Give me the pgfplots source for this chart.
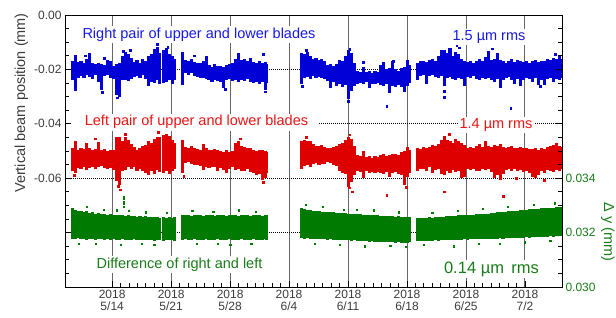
\documentclass[border=0pt]{standalone}
\usepackage{fontspec}
\setmainfont{Liberation Sans}
\usepackage{pgfplots}
\usepackage{pgfplotstable}
\pgfplotsset{compat=1.18}
\definecolor{cblue}{RGB}{0,0,215}
\definecolor{cred}{RGB}{222,0,0}
\definecolor{cgreen}{RGB}{0,122,0}
\definecolor{tblue}{RGB}{25,25,230}
\definecolor{tred}{RGB}{235,20,20}
\definecolor{tgreen}{RGB}{25,125,25}
\definecolor{tgray}{RGB}{60,60,60}

% x = days since 2018-05-14; b = right pair (mm), r = left pair (mm), g = difference (mm, right axis)
\pgfplotstableread{
x blo bhi rlo rhi glo ghi
-4.75 -0.0240 -0.0170 -0.0575 -0.0490 0.03178 0.03290
-4.40 -0.0268 -0.0148 -0.0580 -0.0462 0.03175 0.03282
-4.05 -0.0230 -0.0172 -0.0562 -0.0495 0.03180 0.03280
-3.70 -0.0226 -0.0168 -0.0565 -0.0488 0.03176 0.03278
-3.35 -0.0233 -0.0178 -0.0558 -0.0493 0.03178 0.03276
-3.00 -0.0222 -0.0160 -0.0570 -0.0470 0.03174 0.03279
-2.65 -0.0228 -0.0141 -0.0562 -0.0490 0.03177 0.03272
-2.30 -0.0235 -0.0175 -0.0558 -0.0497 0.03176 0.03274
-1.95 -0.0221 -0.0182 -0.0566 -0.0494 0.03173 0.03270
-1.60 -0.0245 -0.0176 -0.0560 -0.0466 0.03178 0.03272
-1.25 -0.0276 -0.0180 -0.0555 -0.0498 0.03175 0.03268
-0.90 -0.0226 -0.0184 -0.0562 -0.0492 0.03174 0.03270
-0.55 -0.0220 -0.0165 -0.0568 -0.0500 0.03177 0.03266
-0.20 -0.0232 -0.0168 -0.0563 -0.0495 0.03172 0.03268
0.15 -0.0235 -0.0186 -0.0570 -0.0498 0.03175 0.03264
0.50 -0.0295 -0.0180 -0.0610 -0.0450 0.03174 0.03266
0.85 -0.0300 -0.0175 -0.0625 -0.0448 0.03171 0.03263
1.20 -0.0240 -0.0150 -0.0575 -0.0465 0.03175 0.03265
1.55 -0.0238 -0.0136 -0.0570 -0.0448 0.03173 0.03262
1.90 -0.0244 -0.0145 -0.0560 -0.0460 0.03174 0.03264
2.25 -0.0235 -0.0158 -0.0565 -0.0475 0.03172 0.03260
2.60 -0.0228 -0.0172 -0.0558 -0.0485 0.03175 0.03262
2.95 -0.0225 -0.0165 -0.0572 -0.0495 0.03173 0.03259
3.30 -0.0230 -0.0176 -0.0568 -0.0490 0.03172 0.03261
3.65 -0.0222 -0.0160 -0.0575 -0.0480 0.03174 0.03258
4.00 -0.0234 -0.0170 -0.0580 -0.0478 0.03171 0.03260
4.35 -0.0262 -0.0150 -0.0590 -0.0465 0.03173 0.03257
4.70 -0.0245 -0.0145 -0.0575 -0.0470 0.03172 0.03259
5.05 -0.0250 -0.0125 -0.0585 -0.0455 0.03170 0.03256
5.40 -0.0240 -0.0117 -0.0570 -0.0448 0.03173 0.03258
5.60 -0.0255 -0.0140 -0.0578 -0.0450 0.03171 0.03255
6.10 -0.0250 -0.0130 -0.0580 -0.0440 0.03170 0.03257
6.45 -0.0245 -0.0122 -0.0572 -0.0436 0.03172 0.03255
6.80 -0.0238 -0.0145 -0.0585 -0.0445 0.03171 0.03256
7.15 -0.0252 -0.0150 -0.0575 -0.0460 0.03173 0.03254
7.35 -0.0240 -0.0160 -0.0565 -0.0470 0.03170 0.03256
8.35 -0.0258 -0.0135 -0.0580 -0.0460 0.03173 0.03265
8.70 -0.0215 -0.0166 -0.0545 -0.0485 0.03175 0.03263
9.05 -0.0220 -0.0170 -0.0542 -0.0488 0.03174 0.03266
9.40 -0.0212 -0.0162 -0.0548 -0.0482 0.03172 0.03262
9.75 -0.0225 -0.0172 -0.0550 -0.0490 0.03175 0.03264
10.10 -0.0228 -0.0178 -0.0552 -0.0492 0.03173 0.03263
10.45 -0.0232 -0.0175 -0.0555 -0.0495 0.03174 0.03265
10.80 -0.0230 -0.0168 -0.0570 -0.0475 0.03172 0.03262
11.15 -0.0235 -0.0149 -0.0558 -0.0490 0.03175 0.03264
11.50 -0.0240 -0.0185 -0.0562 -0.0495 0.03173 0.03263
11.85 -0.0246 -0.0190 -0.0560 -0.0498 0.03174 0.03265
12.20 -0.0238 -0.0182 -0.0558 -0.0492 0.03172 0.03262
12.55 -0.0244 -0.0188 -0.0575 -0.0496 0.03175 0.03264
12.90 -0.0248 -0.0186 -0.0562 -0.0500 0.03173 0.03263
13.25 -0.0268 -0.0190 -0.0570 -0.0502 0.03174 0.03264
13.60 -0.0240 -0.0185 -0.0582 -0.0498 0.03172 0.03262
13.95 -0.0236 -0.0180 -0.0565 -0.0505 0.03175 0.03265
14.30 -0.0242 -0.0178 -0.0560 -0.0500 0.03173 0.03263
14.65 -0.0240 -0.0162 -0.0570 -0.0470 0.03174 0.03264
15.00 -0.0246 -0.0141 -0.0568 -0.0462 0.03172 0.03262
15.35 -0.0238 -0.0165 -0.0575 -0.0480 0.03175 0.03265
15.70 -0.0244 -0.0160 -0.0572 -0.0485 0.03173 0.03263
16.05 -0.0235 -0.0170 -0.0565 -0.0490 0.03174 0.03264
16.40 -0.0248 -0.0158 -0.0578 -0.0488 0.03172 0.03262
16.75 -0.0250 -0.0172 -0.0580 -0.0495 0.03175 0.03264
17.10 -0.0246 -0.0178 -0.0590 -0.0500 0.03173 0.03263
17.45 -0.0252 -0.0170 -0.0585 -0.0498 0.03174 0.03265
17.80 -0.0245 -0.0175 -0.0608 -0.0495 0.03172 0.03262
18.15 -0.0276 -0.0172 -0.0600 -0.0500 0.03175 0.03264
18.35 -0.0250 -0.0180 -0.0580 -0.0505 0.03173 0.03263
22.45 -0.0252 -0.0140 -0.0565 -0.0462 0.03180 0.03290
22.80 -0.0230 -0.0145 -0.0555 -0.0458 0.03178 0.03286
23.15 -0.0228 -0.0135 -0.0552 -0.0465 0.03179 0.03284
23.50 -0.0235 -0.0150 -0.0560 -0.0462 0.03177 0.03282
23.85 -0.0225 -0.0160 -0.0548 -0.0475 0.03178 0.03280
24.20 -0.0232 -0.0158 -0.0545 -0.0480 0.03176 0.03278
24.55 -0.0228 -0.0165 -0.0550 -0.0482 0.03177 0.03280
24.90 -0.0233 -0.0162 -0.0546 -0.0478 0.03175 0.03276
25.25 -0.0236 -0.0170 -0.0548 -0.0485 0.03176 0.03277
25.60 -0.0242 -0.0184 -0.0542 -0.0488 0.03174 0.03275
25.95 -0.0270 -0.0182 -0.0545 -0.0490 0.03175 0.03276
26.30 -0.0245 -0.0186 -0.0550 -0.0486 0.03173 0.03274
26.65 -0.0262 -0.0180 -0.0555 -0.0482 0.03174 0.03273
27.00 -0.0255 -0.0166 -0.0575 -0.0475 0.03172 0.03272
27.35 -0.0264 -0.0170 -0.0580 -0.0470 0.03173 0.03273
27.70 -0.0258 -0.0150 -0.0585 -0.0460 0.03171 0.03271
28.05 -0.0310 -0.0130 -0.0632 -0.0450 0.03172 0.03270
28.40 -0.0280 -0.0140 -0.0615 -0.0455 0.03170 0.03270
28.75 -0.0262 -0.0175 -0.0590 -0.0480 0.03171 0.03269
29.10 -0.0252 -0.0205 -0.0575 -0.0515 0.03169 0.03268
29.45 -0.0250 -0.0208 -0.0578 -0.0520 0.03170 0.03267
29.80 -0.0254 -0.0190 -0.0600 -0.0500 0.03168 0.03266
30.15 -0.0248 -0.0210 -0.0575 -0.0522 0.03169 0.03265
30.50 -0.0270 -0.0205 -0.0580 -0.0518 0.03167 0.03266
30.85 -0.0252 -0.0212 -0.0577 -0.0525 0.03168 0.03264
31.20 -0.0255 -0.0205 -0.0582 -0.0520 0.03166 0.03263
31.55 -0.0250 -0.0208 -0.0578 -0.0522 0.03167 0.03264
31.90 -0.0258 -0.0185 -0.0580 -0.0515 0.03165 0.03262
32.25 -0.0262 -0.0172 -0.0585 -0.0512 0.03166 0.03261
32.60 -0.0255 -0.0200 -0.0578 -0.0518 0.03165 0.03262
32.95 -0.0285 -0.0195 -0.0595 -0.0515 0.03164 0.03260
33.30 -0.0260 -0.0170 -0.0580 -0.0510 0.03165 0.03261
33.65 -0.0264 -0.0198 -0.0578 -0.0512 0.03163 0.03259
34.00 -0.0258 -0.0205 -0.0585 -0.0515 0.03164 0.03260
34.35 -0.0265 -0.0195 -0.0590 -0.0505 0.03162 0.03258
34.70 -0.0282 -0.0190 -0.0625 -0.0500 0.03163 0.03259
35.05 -0.0262 -0.0165 -0.0595 -0.0486 0.03162 0.03257
35.30 -0.0250 -0.0185 -0.0580 -0.0495 0.03164 0.03258
36.25 -0.0240 -0.0175 -0.0572 -0.0488 0.03168 0.03252
36.60 -0.0226 -0.0170 -0.0565 -0.0492 0.03169 0.03254
36.95 -0.0222 -0.0168 -0.0568 -0.0486 0.03168 0.03253
37.30 -0.0252 -0.0172 -0.0575 -0.0490 0.03170 0.03255
37.65 -0.0225 -0.0165 -0.0560 -0.0485 0.03169 0.03256
38.00 -0.0220 -0.0160 -0.0580 -0.0478 0.03170 0.03255
38.35 -0.0228 -0.0168 -0.0570 -0.0482 0.03171 0.03257
38.70 -0.0230 -0.0150 -0.0565 -0.0475 0.03170 0.03258
39.05 -0.0225 -0.0130 -0.0585 -0.0460 0.03172 0.03258
39.40 -0.0262 -0.0128 -0.0590 -0.0445 0.03171 0.03259
39.75 -0.0232 -0.0140 -0.0575 -0.0458 0.03172 0.03260
40.10 -0.0228 -0.0122 -0.0580 -0.0462 0.03173 0.03261
40.45 -0.0235 -0.0150 -0.0570 -0.0470 0.03172 0.03260
40.80 -0.0240 -0.0135 -0.0578 -0.0455 0.03173 0.03262
41.15 -0.0230 -0.0145 -0.0572 -0.0465 0.03174 0.03263
41.50 -0.0236 -0.0160 -0.0600 -0.0472 0.03173 0.03263
41.85 -0.0262 -0.0168 -0.0595 -0.0478 0.03175 0.03264
42.20 -0.0228 -0.0172 -0.0565 -0.0488 0.03174 0.03265
42.55 -0.0232 -0.0170 -0.0570 -0.0485 0.03175 0.03266
42.90 -0.0226 -0.0175 -0.0568 -0.0490 0.03176 0.03266
43.25 -0.0234 -0.0168 -0.0575 -0.0482 0.03175 0.03267
43.60 -0.0238 -0.0162 -0.0572 -0.0475 0.03176 0.03268
43.95 -0.0230 -0.0170 -0.0565 -0.0486 0.03177 0.03269
44.30 -0.0236 -0.0155 -0.0570 -0.0462 0.03176 0.03270
44.65 -0.0232 -0.0132 -0.0568 -0.0480 0.03177 0.03270
45.00 -0.0240 -0.0165 -0.0576 -0.0485 0.03178 0.03272
45.35 -0.0245 -0.0160 -0.0598 -0.0478 0.03177 0.03273
45.70 -0.0234 -0.0138 -0.0590 -0.0482 0.03178 0.03274
46.05 -0.0270 -0.0165 -0.0605 -0.0476 0.03179 0.03275
46.40 -0.0240 -0.0170 -0.0585 -0.0484 0.03178 0.03276
46.75 -0.0232 -0.0175 -0.0570 -0.0490 0.03179 0.03277
47.10 -0.0228 -0.0168 -0.0565 -0.0486 0.03180 0.03278
47.45 -0.0238 -0.0160 -0.0572 -0.0482 0.03179 0.03279
47.80 -0.0252 -0.0172 -0.0568 -0.0488 0.03180 0.03280
48.15 -0.0235 -0.0165 -0.0575 -0.0490 0.03181 0.03281
48.50 -0.0262 -0.0170 -0.0570 -0.0486 0.03180 0.03282
48.85 -0.0240 -0.0172 -0.0578 -0.0490 0.03181 0.03283
49.20 -0.0230 -0.0168 -0.0572 -0.0488 0.03182 0.03284
49.55 -0.0236 -0.0175 -0.0580 -0.0494 0.03181 0.03285
49.90 -0.0245 -0.0170 -0.0595 -0.0492 0.03182 0.03286
50.25 -0.0232 -0.0165 -0.0600 -0.0488 0.03183 0.03287
50.60 -0.0256 -0.0172 -0.0590 -0.0495 0.03184 0.03288
50.95 -0.0240 -0.0168 -0.0575 -0.0490 0.03183 0.03289
51.30 -0.0258 -0.0170 -0.0580 -0.0492 0.03184 0.03290
51.65 -0.0236 -0.0160 -0.0570 -0.0486 0.03185 0.03291
52.00 -0.0230 -0.0165 -0.0575 -0.0480 0.03186 0.03292
52.35 -0.0245 -0.0158 -0.0578 -0.0478 0.03185 0.03292
52.70 -0.0235 -0.0162 -0.0570 -0.0470 0.03186 0.03293
53.05 -0.0238 -0.0150 -0.0575 -0.0482 0.03187 0.03294
53.40 -0.0232 -0.0160 -0.0568 -0.0485 0.03187 0.03295
}\data

\pgfplotstableread{
x y
-4.40 -0.0272
-3.20 -0.0150
-1.20 -0.0283
-0.90 -0.0160
0.60 -0.0304
0.80 -0.0296
0.70 -0.0285
1.30 -0.0132
2.10 -0.0128
5.30 -0.0108
6.60 -0.0117
9.70 -0.0150
13.40 -0.0272
17.90 -0.0145
18.20 -0.0282
22.60 -0.0262
23.00 -0.0130
28.00 -0.0318
28.20 -0.0125
29.80 -0.0175
32.60 -0.0334
33.40 -0.0170
39.40 -0.0280
39.45 -0.0302
40.90 -0.0112
41.20 -0.0120
45.10 -0.0124
47.30 -0.0342
50.80 -0.0262
52.60 -0.0145
}\bout

\pgfplotstableread{
x y
-4.50 -0.0590
-2.00 -0.0455
0.70 -0.0630
0.95 -0.0642
1.50 -0.0438
5.50 -0.0432
8.50 -0.0592
15.20 -0.0455
17.90 -0.0615
23.00 -0.0450
28.20 -0.0440
28.50 -0.0650
28.10 -0.0635
32.60 -0.0662
34.90 -0.0632
39.40 -0.0650
40.00 -0.0438
46.40 -0.0665
48.00 -0.0600
51.30 -0.0608
}\rout

\pgfplotstableread{
x y
1.35 0.03295
1.35 0.03305
1.35 0.03315
1.35 0.03325
1.35 0.03332
-3.00 0.03295
-1.00 0.03285
0.50 0.03282
2.00 0.03280
4.00 0.03275
6.50 0.03272
9.50 0.03280
12.00 0.03278
15.00 0.03282
17.00 0.03276
23.00 0.03302
25.00 0.03295
27.50 0.03285
29.00 0.03284
31.00 0.03282
34.00 0.03275
38.00 0.03272
41.00 0.03280
44.00 0.03288
47.00 0.03295
50.00 0.03302
52.50 0.03308
-4.00 0.03160
-2.00 0.03158
1.00 0.03155
3.50 0.03160
5.00 0.03156
10.00 0.03158
12.50 0.03160
14.00 0.03155
16.50 0.03160
24.00 0.03160
27.00 0.03155
30.00 0.03150
33.00 0.03152
34.80 0.03148
37.00 0.03155
40.50 0.03150
43.50 0.03158
46.00 0.03160
49.00 0.03165
52.00 0.03170
}\gout

\pgfplotsset{
  bandstyle/.style={only marks, mark=*, mark size=0.1pt,
    mark options={draw opacity=0, fill opacity=0},
    error bars/.cd, y dir=plus, y explicit, error mark=none,
    error bar style={#1, line width=3.1pt}},
}

\begin{document}
\begin{tikzpicture}[x=1pt,y=1pt]
\begin{axis}[
  at={(65pt,31pt)}, anchor=south west,
  width=497pt, height=272pt, scale only axis,
  xmin=-5.6, xmax=53.4, ymin=-0.10, ymax=0,
  xtick={0,7,14,21,28,35,42,49},
  xticklabels={{2018\\5/14},{2018\\5/21},{2018\\5/28},{2018\\6/4},{2018\\6/11},{2018\\6/18},{2018\\6/25},{2018\\7/2}},
  minor x tick num=6,
  ytick={-0.10,-0.08,-0.06,-0.04,-0.02,0},
  yticklabels={{},{},-0.06,-0.04,-0.02,0.00},
  minor y tick num=3,
  scaled y ticks=false,
  xtick pos=left, ytick pos=left,
  tick align=inside,
  major tick length=6pt, minor tick length=3.5pt,
  every tick/.style={black, line width=0.8pt},
  axis line style={line width=0.9pt},
  xmajorgrids, ymajorgrids,
  x grid style={black!60, line width=0.9pt},
  y grid style={black, line width=0.9pt, dash pattern=on 1pt off 1pt},
  xticklabel style={align=center, font=\fontsize{12}{11.8}\selectfont, text=tgray},
  yticklabel style={font=\fontsize{12}{14}\selectfont, text=tgray},
]
\addplot[bandstyle=cblue]
  table[x=x, y=blo, y error expr=\thisrow{bhi}-\thisrow{blo}] {\data};
\addplot[bandstyle=cred]
  table[x=x, y=rlo, y error expr=\thisrow{rhi}-\thisrow{rlo}] {\data};
\addplot[only marks, mark=square*, mark size=0.9pt, cblue] table[x=x,y=y] {\bout};
\addplot[only marks, mark=square*, mark size=0.9pt, cred] table[x=x,y=y] {\rout};
\end{axis}
\begin{axis}[
  at={(65pt,31pt)}, anchor=south west,
  width=497pt, height=272pt, scale only axis,
  xmin=-5.6, xmax=53.4, ymin=0.030, ymax=0.040,
  axis x line=none, axis y line*=right,
  ytick={0.030,0.032,0.034,0.036,0.038,0.040},
  yticklabels={0.030,0.032,0.034,{},{},{}},
  minor y tick num=3,
  scaled y ticks=false,
  tick align=inside,
  major tick length=6pt, minor tick length=3.5pt,
  every tick/.style={black, line width=0.8pt},
  axis line style={line width=0.9pt},
  yticklabel style={font=\fontsize{12}{14}\selectfont, text=tgreen},
]
\addplot[bandstyle=cgreen]
  table[x=x, y=glo, y error expr=\thisrow{ghi}-\thisrow{glo}] {\data};
\addplot[only marks, mark=square*, mark size=0.6pt, cgreen] table[x=x,y=y] {\gout};
\end{axis}
\fill[white] (71,191) rectangle (319,197);
\node[anchor=base, text=tblue, font=\fontsize{14.5}{17}\selectfont, fill=white, inner sep=1.5pt] at (199,279.7) {Right pair of upper and lower blades};
\node[anchor=base, text=tred, font=\fontsize{14.5}{17}\selectfont, fill=white, inner sep=1.5pt] at (196.5,192) {Left pair of upper and lower blades};
\node[anchor=base, text=tblue, font=\fontsize{14.5}{17}\selectfont, fill=white, inner sep=1.5pt] at (489,277.3) {1.5 µm rms};
\node[anchor=base, text=tred, font=\fontsize{14.5}{17}\selectfont, fill=white, inner sep=1.5pt] at (496,189.7) {1.4 µm rms};
\node[anchor=base, text=tgreen, font=\fontsize{14.5}{17}\selectfont, fill=white, inner sep=1.5pt] at (179.5,49.7) {Difference of right and left};
\node[anchor=base, text=tgreen, font=\fontsize{16.5}{19}\selectfont, fill=white, inner sep=1.5pt] at (491.5,44.7) {0.14 µm\hspace{0.45em}rms};
\node[rotate=90, anchor=base, text=tgray, font=\fontsize{14.5}{17}\selectfont] at (25,215) {Vertical beam position (mm)};
\node[rotate=-90, anchor=base, text=tgreen, font=\fontsize{14.5}{17}\selectfont] at (604,86) {Δ y (mm)};
\pgfresetboundingbox
\path (0,0) rectangle (616,318);
\end{tikzpicture}
\end{document}
